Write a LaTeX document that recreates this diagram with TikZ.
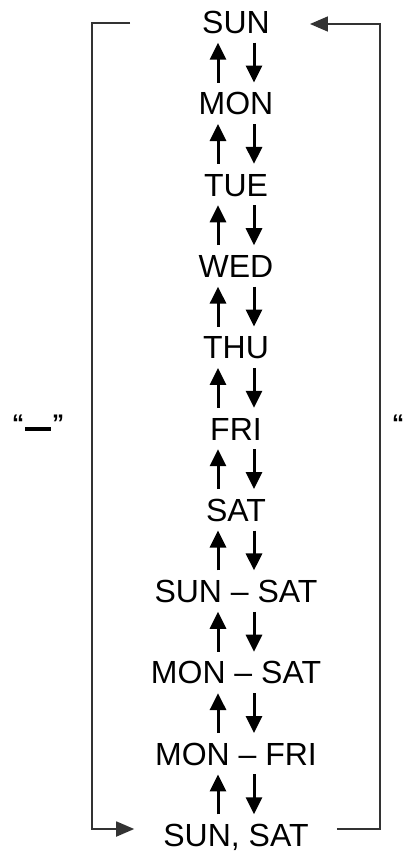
\documentclass[tikz,border=0pt]{standalone}
\usepackage{fontspec}
\setmainfont{Liberation Sans}
\usetikzlibrary{arrows.meta}
\begin{document}
\begin{tikzpicture}[x=1pt,y=-1pt,
  day/.style={inner sep=0pt, text height=23pt, text depth=0pt, font=\fontsize{32}{38}\selectfont},
  uarr/.style={line width=3pt, -{Triangle[length=17pt,width=16pt]}, shorten <=9pt, shorten >=9pt},
  brk/.style={line width=1.8pt, color=black!80},
  brkarr/.style={brk, -{Triangle[length=18pt,width=15pt]}},
  quot/.style={inner sep=0pt, anchor=base west, font=\bfseries\fontsize{24}{28}\selectfont}]
\useasboundingbox (0,0) rectangle (412,857);
\node[day] (sun) at (236,22) {SUN};
\node[day] (mon) at (236,103.3) {MON};
\node[day] (tue) at (236,184.6) {TUE};
\node[day] (wed) at (236,265.9) {WED};
\node[day] (thu) at (236,347.2) {THU};
\node[day] (fri) at (236,428.5) {FRI};
\node[day] (sat) at (236,509.8) {SAT};
\node[day] (sunsat) at (236,591.1) {SUN – SAT};
\node[day] (monsat) at (236,672.4) {MON – SAT};
\node[day] (monfri) at (236,753.7) {MON – FRI};
\node[day] (ss) at (236,835) {SUN, SAT};
\foreach \a/\b in {sun/mon,mon/tue,tue/wed,wed/thu,thu/fri,fri/sat,sat/sunsat,sunsat/monsat,monsat/monfri,monfri/ss}{
  \draw[uarr] ([xshift=-18pt]\b.north) -- ([xshift=-18pt]\a.south);
  \draw[uarr] ([xshift=18pt]\a.south) -- ([xshift=18pt]\b.north);
}
\draw[brkarr] ([xshift=-72pt,yshift=-1pt]sun.west) -- ++(-38,0) |- ([xshift=-29pt,yshift=6pt]ss.west);
\draw[brkarr] ([xshift=28pt,yshift=6pt]ss.east) -- ++(43,0) |- ([xshift=40pt,yshift=-2pt]sun.east);
\node[quot] (ql) at (12,431) {“\kern1pt\rule{26pt}{4pt}\kern1pt”};
\node[quot] (qr) at (392,431) {“};
\end{tikzpicture}
\end{document}
